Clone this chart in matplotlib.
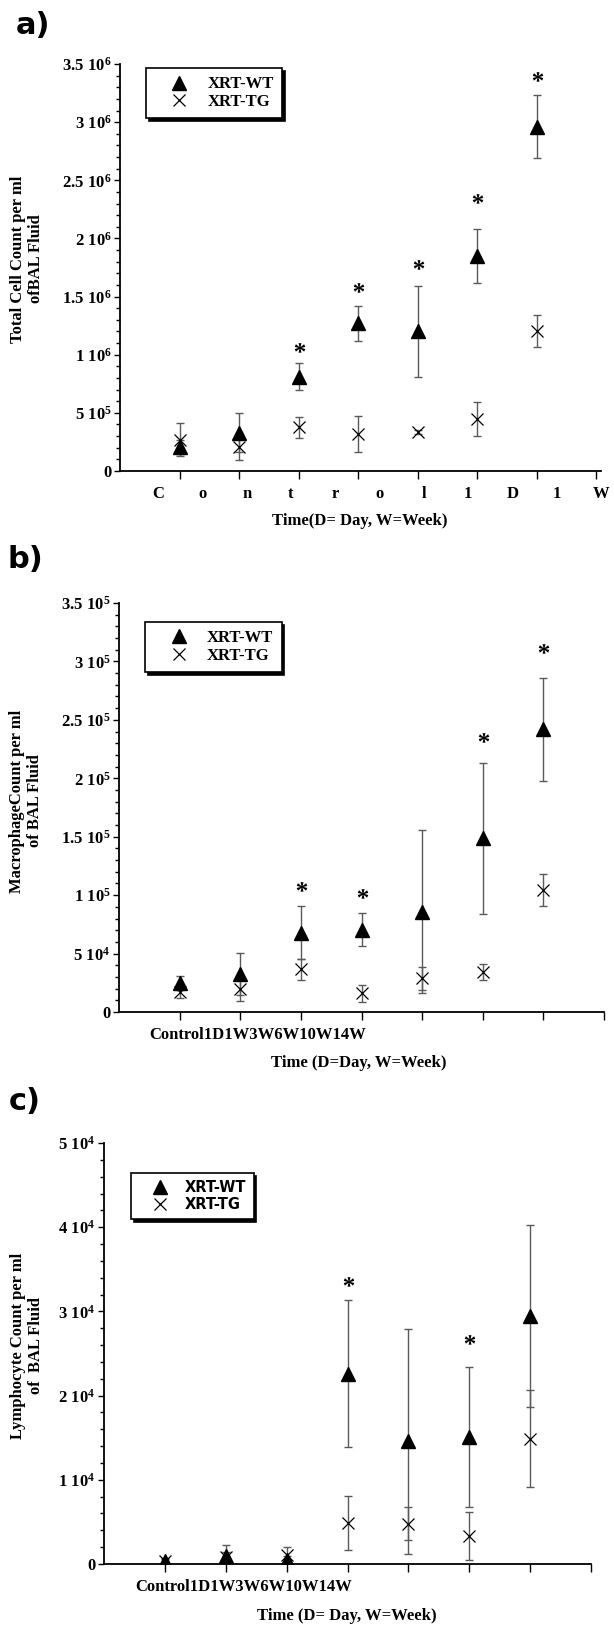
import matplotlib
matplotlib.use('Agg')
import matplotlib.pyplot as plt
import numpy as np
from matplotlib.ticker import MultipleLocator, FuncFormatter
from matplotlib.textpath import TextPath
from matplotlib.font_manager import FontProperties
from matplotlib.path import Path

plt.rcParams['font.family'] = 'Liberation Serif'
plt.rcParams['font.weight'] = 'bold'
plt.rcParams['mathtext.fontset'] = 'custom'
plt.rcParams['mathtext.rm'] = 'Liberation Serif:bold'
plt.rcParams['mathtext.it'] = 'Liberation Serif:bold'
plt.rcParams['mathtext.bf'] = 'Liberation Serif:bold'

# time points: Control, 1D, 1W, 3W, 6W, 10W, 14W
timepoints = np.arange(1, 8)

# a) total cell count
wt_a = np.array([0.21, 0.33, 0.81, 1.27, 1.20, 1.85, 2.96]) * 1e6
wt_a_err = np.array([0.06, 0.17, 0.115, 0.15, 0.39, 0.23, 0.27]) * 1e6
tg_a = np.array([0.27, 0.21, 0.375, 0.315, 0.335, 0.45, 1.205]) * 1e6
tg_a_err = np.array([0.14, 0.115, 0.09, 0.155, 0.02, 0.145, 0.135]) * 1e6
star_a_x = [3, 4, 5, 6, 7]
star_a_y = np.array([1.03, 1.55, 1.745, 2.31, 3.366]) * 1e6
letters_a = list('Control1D1W')

# b) macrophage count
wt_b = np.array([2.5, 3.25, 6.8, 7.05, 8.6, 14.85, 24.2]) * 1e4
wt_b_err = np.array([0.6, 1.8, 2.3, 1.4, 6.95, 6.5, 4.4]) * 1e4
tg_b = np.array([1.7, 2.0, 3.65, 1.6, 2.87, 3.4, 10.45]) * 1e4
tg_b_err = np.array([0.5, 1.1, 0.9, 0.75, 1.0, 0.7, 1.35]) * 1e4
star_b_x = [3, 4, 6, 7]
star_b_y = np.array([10.4, 9.8, 23.2, 30.8]) * 1e4

# c) lymphocyte count
wt_c = np.array([0.3, 0.9, 0.5, 22.6, 14.55, 15.1, 29.5]) * 1e3
wt_c_err = np.array([0.3, 1.4, 0.5, 8.7, 13.35, 8.35, 10.8]) * 1e3
tg_c = np.array([0.4, 0.8, 1.1, 4.9, 4.8, 3.3, 14.9]) * 1e3
tg_c_err = np.array([0.3, 0.6, 0.9, 3.2, 1.95, 2.85, 5.8]) * 1e3
star_c_x = [4, 6]
star_c_y = np.array([33.1, 26.3]) * 1e3

time_label = 'Control1D1W3W6W10W14W'

W, H = 614, 1625
fig = plt.figure(figsize=(W / 100, H / 100), dpi=100)

# asterisk marker centred on its ink
tp = TextPath((0, 0), '*', prop=FontProperties(family='Liberation Serif'), size=1)
v = tp.vertices.copy()
v -= (v.min(axis=0) + v.max(axis=0)) / 2
star_marker = Path(v, tp.codes)


def sci_label(val, pos):
    if abs(val) < 1e-9:
        return '0'
    if val < 0:
        return ''
    e = int(np.floor(np.log10(val) + 1e-9))
    return r'$%g\ 10^{%d}$' % (round(val / 10 ** e, 3), e)


def make_panel(box, wt, wt_err, tg, tg_err, sx, sy, ymax, ystep, yminor,
               leg_xy, leg_font=None):
    l, r, t, b = box
    ax = fig.add_axes([l / W, 1 - b / H, (r - l) / W, (b - t) / H])
    for vals, errs in ((wt, wt_err), (tg, tg_err)):
        eb = ax.errorbar(timepoints, vals, yerr=errs, fmt='none', ecolor='#5a5a5a',
                         elinewidth=1, capsize=3, capthick=1)
        for cap in eb[1]:
            cap.set_color('k')
    h1, = ax.plot(timepoints, wt, ls='none', marker='^', ms=9.5, color='k', label='XRT-WT')
    h2, = ax.plot(timepoints, tg, ls='none', marker='x', ms=8, mew=0.9, color='k',
                  label='XRT-TG')
    ax.plot(sx, sy, ls='none', marker=star_marker, ms=12, color='k', mew=0)

    ax.set_xlim(0, 8)
    ax.set_ylim(0, ymax)
    for s in ('top', 'right'):
        ax.spines[s].set_visible(False)
    for s in ('left', 'bottom'):
        ax.spines[s].set_linewidth(1.3)

    ax.set_xticks(range(1, 9))
    ax.set_xticklabels([])
    ax.tick_params(axis='x', which='major', length=6, width=1, direction='out')
    ax.yaxis.set_major_locator(MultipleLocator(ystep))
    ax.yaxis.set_minor_locator(MultipleLocator(yminor))
    ax.yaxis.set_major_formatter(FuncFormatter(sci_label))
    ax.tick_params(axis='y', which='major', length=4.5, width=1, pad=1.5, labelsize=12)
    ax.tick_params(axis='y', which='minor', length=3, width=1)
    ax.tick_params(axis='x', which='minor', length=0, pad=11, labelsize=12)

    leg = ax.legend(handles=[h1, h2], loc='upper left', bbox_to_anchor=leg_xy,
                    borderaxespad=0, fancybox=False, edgecolor='k', framealpha=1,
                    shadow={'color': 'k', 'alpha': 1}, fontsize=12, prop=leg_font,
                    handlelength=3, handletextpad=0.2, borderpad=0.5,
                    labelspacing=0.1, numpoints=1)
    leg.get_frame().set_linewidth(1.2)
    return ax


# a)
ax_a = make_panel((120, 601, 64, 471), wt_a, wt_a_err, tg_a, tg_a_err,
                  star_a_x, star_a_y, 3.5e6, 5e5, 1e5, (0.054, 0.99))
ax_a.set_xticks(np.linspace(0.64, 8.08, len(letters_a)), letters_a, minor=True)

# b)
ax_b = make_panel((119, 604, 603, 1012), wt_b, wt_b_err, tg_b, tg_b_err,
                  star_b_x, star_b_y, 3.5e5, 5e4, 1e4, (0.054, 0.954))
ax_b.set_xticks([2.29], [time_label], minor=True)

# c)
ax_c = make_panel((104, 591, 1143, 1564), wt_c, wt_c_err, tg_c, tg_c_err,
                  star_c_x, star_c_y, 5e4, 1e4, 2e3, (0.055, 0.929),
                  leg_font=FontProperties(family='DejaVu Sans', weight='bold',
                                          size=10.5))
ax_c.set_xticks([2.29], [time_label], minor=True)

# axis titles
fs = 12
fig.text(27 / W, 1 - 259 / H, 'Total Cell Count per ml\nofBAL Fluid', rotation=90,
         ha='center', va='center', fontsize=fs, linespacing=1.1)
fig.text(26 / W, 1 - 801 / H, 'MacrophageCount per ml\nof BAL Fluid', rotation=90,
         ha='center', va='center', fontsize=fs, linespacing=1.1)
fig.text(27 / W, 1 - 1346 / H, 'Lymphocyte Count per ml\nof  BAL Fluid', rotation=90,
         ha='center', va='center', fontsize=fs, linespacing=1.1)

fig.text(360 / W, 1 - 521 / H, 'Time(D= Day, W=Week)', ha='center', va='center', fontsize=fs)
fig.text(359 / W, 1 - 1063 / H, 'Time (D=Day, W=Week)', ha='center', va='center', fontsize=fs)
fig.text(347 / W, 1 - 1616 / H, 'Time (D= Day, W=Week)', ha='center', va='center', fontsize=fs)

# panel letters
for txt, x, y in (('a)', 33, 26), ('b)', 25, 560), ('c)', 25, 1101)):
    fig.text(x / W, 1 - y / H, txt, family='DejaVu Sans', weight='heavy', fontsize=22,
             ha='center', va='center')

fig.savefig('out.png', dpi=100)
